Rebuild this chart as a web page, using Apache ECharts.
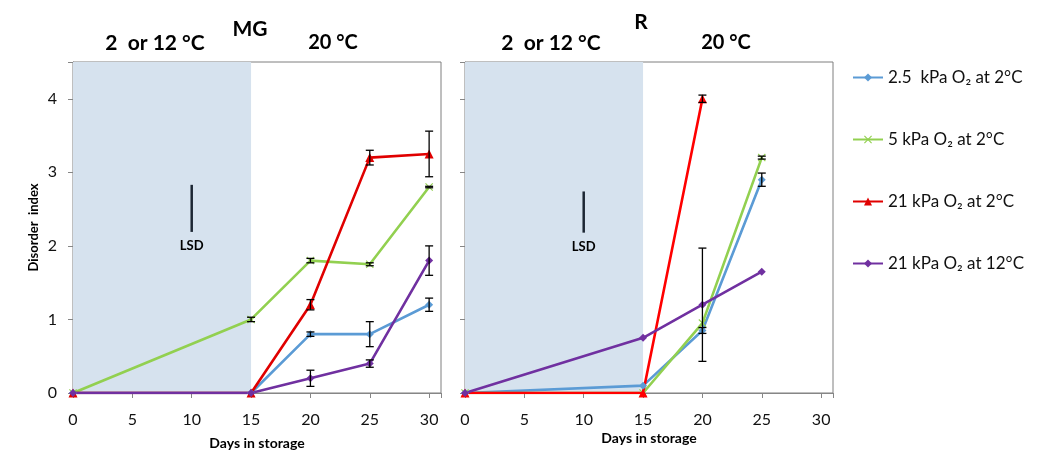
<!DOCTYPE html>
<html>
<head>
<meta charset="utf-8">
<script src="https://cdn.jsdelivr.net/npm/echarts@6/dist/echarts.min.js"></script>
<style>
  html, body { margin: 0; padding: 0; background: #fff; }
  #chart { width: 1047px; height: 452px; }
</style>
</head>
<body>
<div id="chart"></div>
<script>
// days
var daysA = [0, 15, 20, 25, 30]
var daysB = [0, 15, 20, 25]

// panel A (MG)
var blueA = [0, 0, 0.8, 0.8, 1.2]
var blueErrA = [0, 0, 0.03, 0.17, 0.09]
var greenA = [0, 1.0, 1.8, 1.75, 2.8]
var greenErrA = [0, 0.03, 0.03, 0.02, 0.01]
var redA = [0, 0, 1.2, 3.2, 3.25]
var redErrA = [0, 0, 0.07, 0.1, 0.31]
var purpleA = [0, 0, 0.2, 0.4, 1.8]
var purpleErrA = [0, 0, 0.11, 0.05, 0.2]

// panel B (R)
var blueB = [0, 0.1, 0.85, 2.9]
var blueErrB = [0, 0, 0.04, 0.09]
var greenB = [0, 0, 0.95, 3.2]
var greenErrB = [0, 0, 0, 0.02]
var redB = [0, 0, 4.0]
var redErrB = [0, 0, 0.05]
var purpleB = [0, 0.75, 1.2, 1.65]
var purpleErrB = [0, 0, 0.77, 0]

// LSD bars: [day, low, high]
var lsdA = [10, 2.19, 2.83]
var lsdB = [10, 2.18, 2.74]

var names = ['2.5  kPa O₂ at 2°C', '5 kPa O₂ at 2°C', '21 kPa O₂ at 2°C', '21 kPa O₂ at 12°C']
var FONT = 'Lato, "Noto Sans", sans-serif'

var chart = echarts.init(document.getElementById('chart'))

function pairs (xs, ys) {
  return ys.map(function (y, i) { return [xs[i], y] })
}
function errData (xs, ys, es) {
  var out = []
  ys.forEach(function (y, i) {
    if (es[i] > 0) out.push([xs[i], y - es[i], y + es[i]])
  })
  return out
}

function renderErr (params, api) {
  var top = api.coord([api.value(0), api.value(2)])
  var bot = api.coord([api.value(0), api.value(1)])
  var w = 4
  var st = { stroke: '#000', lineWidth: 1.3 }
  return {
    type: 'group',
    children: [
      { type: 'line', shape: { x1: top[0], y1: top[1], x2: bot[0], y2: bot[1] }, style: st },
      { type: 'line', shape: { x1: top[0] - w, y1: top[1], x2: top[0] + w, y2: top[1] }, style: st },
      { type: 'line', shape: { x1: bot[0] - w, y1: bot[1], x2: bot[0] + w, y2: bot[1] }, style: st },
    ],
  }
}

function renderLsd (params, api) {
  var top = api.coord([api.value(0), api.value(2)])
  var bot = api.coord([api.value(0), api.value(1)])
  return {
    type: 'group',
    children: [
      { type: 'line', shape: { x1: top[0], y1: top[1], x2: bot[0], y2: bot[1] }, style: { stroke: '#1c2633', lineWidth: 2.5 } },
      { type: 'text', x: bot[0], y: bot[1] + 14, style: { text: 'LSD', fill: '#000', font: 'bold 13px ' + FONT, align: 'center', verticalAlign: 'middle' } },
    ],
  }
}

var xSymbol = 'path://M0,1L1,0L5,4L9,0L10,1L6,5L10,9L9,10L5,6L1,10L0,9L4,5Z'

var styles = [
  { color: '#5B9BD5', symbol: 'diamond', size: 8 },
  { color: '#92D050', symbol: xSymbol, size: 8 },
  { color: '#E00000', symbol: 'triangle', size: 9 },
  { color: '#7030A0', symbol: 'diamond', size: 8 },
]

function lineSeries (idx, xs, ys, gi, colorOverride) {
  var s = styles[idx]
  return {
    name: names[idx],
    type: 'line',
    xAxisIndex: gi,
    yAxisIndex: gi,
    data: pairs(xs, ys),
    symbol: s.symbol,
    symbolSize: s.size,
    showAllSymbol: true,
    lineStyle: { width: 2.6, color: colorOverride || s.color },
    itemStyle: { color: colorOverride || s.color },
    z: 3,
    animation: false,
  }
}

function errSeries (xs, ys, es, gi) {
  return {
    type: 'custom',
    xAxisIndex: gi,
    yAxisIndex: gi,
    renderItem: renderErr,
    data: errData(xs, ys, es),
    z: 4,
    silent: true,
    animation: false,
  }
}

function shade (gi) {
  return {
    type: 'line',
    xAxisIndex: gi,
    yAxisIndex: gi,
    data: [],
    markArea: {
      silent: true,
      itemStyle: { color: '#D6E2EE' },
      data: [[{ xAxis: 0 }, { xAxis: 15 }]],
    },
    z: 1,
  }
}

function xAxisCfg (gi, gap) {
  return {
    type: 'value',
    gridIndex: gi,
    min: 0,
    max: 31,
    interval: 5,
    name: 'Days in storage',
    nameLocation: 'middle',
    nameGap: gap,
    nameMoveOverlap: false,
    nameTextStyle: { fontFamily: FONT, fontWeight: 'bold', fontSize: 14, color: '#000' },
    axisLine: { show: true, lineStyle: { color: '#868686', width: 1 } },
    axisTick: { show: true, length: 5, lineStyle: { color: '#868686' } },
    axisLabel: {
      fontFamily: FONT, fontSize: 16, color: '#111', margin: 19,
      formatter: function (v) { return v % 5 === 0 && v <= 30 ? String(v) : '' },
    },
    splitLine: { show: false },
  }
}

function yAxisCfg (gi, showLabels) {
  return {
    type: 'value',
    gridIndex: gi,
    min: 0,
    max: 4.5,
    interval: 1,
    name: showLabels ? 'Disorder  index' : '',
    nameLocation: 'middle',
    nameGap: 33,
    nameRotate: 90,
    nameTextStyle: { fontFamily: FONT, fontWeight: 'bold', fontSize: 13, color: '#000' },
    axisLine: { show: true, lineStyle: { color: '#868686', width: 1 } },
    axisTick: { show: true, length: 5, lineStyle: { color: '#868686' } },
    axisLabel: {
      show: showLabels,
      fontFamily: FONT, fontSize: 16, color: '#111', margin: 16,
      formatter: function (v) { return Number.isInteger(v) ? String(v) : '' },
    },
    splitLine: { show: false },
  }
}

function titleText (x, y, text, size) {
  return {
    type: 'text',
    x: x,
    y: y,
    style: { text: text, fill: '#000', font: 'bold ' + size + 'px ' + FONT, align: 'center', verticalAlign: 'middle' },
  }
}

var gridBase = { top: 62, width: 368, height: 331, show: true, borderColor: '#7f7f7f', borderWidth: 1, backgroundColor: 'transparent', outerBoundsMode: 'none', containLabel: false }

var option = {
  backgroundColor: '#fff',
  animation: false,
  grid: [
    Object.assign({ left: 73 }, gridBase),
    Object.assign({ left: 465 }, gridBase),
  ],
  xAxis: [xAxisCfg(0, 43), xAxisCfg(1, 38)],
  yAxis: [yAxisCfg(0, true), yAxisCfg(1, false)],
  legend: {
    orient: 'vertical',
    left: 847,
    top: 64,
    itemGap: 45,
    itemWidth: 30,
    itemHeight: 10,
    data: names,
    textStyle: { fontFamily: FONT, fontSize: 17, color: '#111' },
  },
  graphic: [
    titleText(250, 29, 'MG', 21),
    titleText(155, 43, '2  or 12 °C', 21),
    titleText(333, 43, '20 °C', 20),
    titleText(641, 22, 'R', 21),
    titleText(551, 43, '2  or 12 °C', 21),
    titleText(726, 43, '20 °C', 20),
    titleText(98, 89, 'A', 18),
    titleText(483, 86, 'B', 18),
  ],
  series: [
    shade(0),
    shade(1),
    lineSeries(0, daysA, blueA, 0),
    lineSeries(1, daysA, greenA, 0),
    lineSeries(2, daysA, redA, 0),
    lineSeries(3, daysA, purpleA, 0),
    lineSeries(0, daysB, blueB, 1),
    lineSeries(1, daysB, greenB, 1),
    lineSeries(2, daysB.slice(0, 3), redB, 1, '#FF0000'),
    lineSeries(3, daysB, purpleB, 1),
    errSeries(daysA, blueA, blueErrA, 0),
    errSeries(daysA, greenA, greenErrA, 0),
    errSeries(daysA, redA, redErrA, 0),
    errSeries(daysA, purpleA, purpleErrA, 0),
    errSeries(daysB, blueB, blueErrB, 1),
    errSeries(daysB, greenB, greenErrB, 1),
    errSeries(daysB.slice(0, 3), redB, redErrB, 1),
    errSeries(daysB, purpleB, purpleErrB, 1),
    { type: 'custom', xAxisIndex: 0, yAxisIndex: 0, renderItem: renderLsd, data: [lsdA], z: 5, silent: true },
    { type: 'custom', xAxisIndex: 1, yAxisIndex: 1, renderItem: renderLsd, data: [lsdB], z: 5, silent: true },
  ],
}

chart.setOption(option)
</script>
</body>
</html>
